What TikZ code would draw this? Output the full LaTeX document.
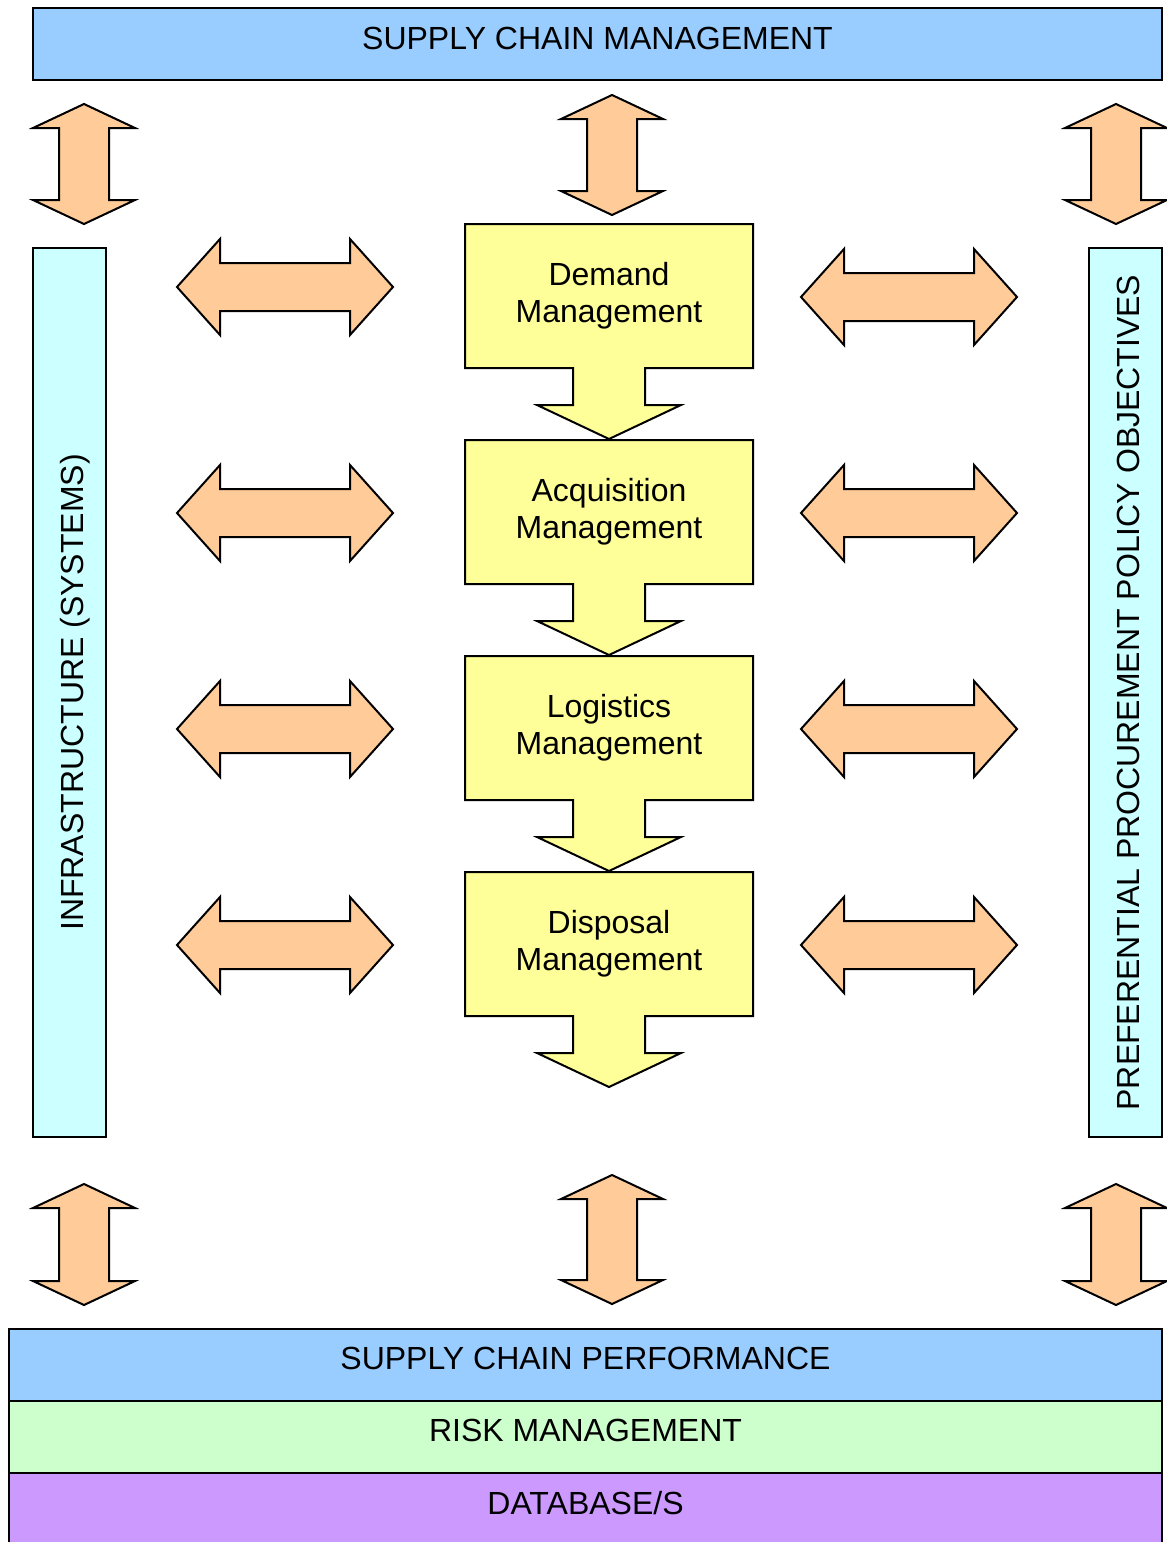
\documentclass[tikz,border=0pt]{standalone}
\usepackage{fontspec}
\setmainfont{Liberation Sans}
\usetikzlibrary{calc,backgrounds}
\definecolor{barblue}{HTML}{99CCFF}
\definecolor{barcyan}{HTML}{CCFFFF}
\definecolor{arroworange}{HTML}{FFCC99}
\definecolor{boxyellow}{HTML}{FFFF99}
\definecolor{riskgreen}{HTML}{CCFFCC}
\definecolor{dbpurple}{HTML}{CC99FF}
\tikzset{%
    bar/.style={draw, line width=1pt, fill=#1, minimum height=36pt,
        inner sep=0pt, outer sep=0pt, text depth=6pt},
    sidebar/.style={draw, line width=1pt, fill=barcyan, rotate=90,
        minimum width=444.5pt, minimum height=36.5pt, inner sep=0pt,
        text height=14pt, text depth=0pt},
    mgmt/.style={minimum width=144pt, minimum height=72pt, align=center,
        inner sep=0pt, outer sep=0pt},
    callout/.style={draw, line width=1pt, fill=boxyellow, line join=miter},
    blockarrow/.style={draw, line width=1pt, fill=arroworange, line join=miter},
    pics/vdarrow/.style={code={%
        \draw[blockarrow] (0,0) -- (51,24) -- (25,24) -- (25,{#1-24}) -- (51,{#1-24})
            -- (0,#1) -- (-51,{#1-24}) -- (-25,{#1-24}) -- (-25,24) -- (-51,24) -- cycle;}},
    pics/vdarrow/.default=120,
    pics/hdarrow/.style={code={%
        \draw[blockarrow] (0,0) -- (43,-48) -- (43,-24) -- (173,-24) -- (173,-48)
            -- (216,0) -- (173,48) -- (173,24) -- (43,24) -- (43,48) -- cycle;}}
}

\begin{document}
\begin{tikzpicture}[x=0.5pt, y=-0.5pt, font=\fontsize{16pt}{18.5pt}\selectfont]
    \useasboundingbox (0,0) rectangle (1167,1542);

    \node[bar=barblue, minimum width=564.5pt] (scm) at (597.5,44) {SUPPLY CHAIN MANAGEMENT};

    \node[sidebar] (infra) at (69.5,692.5) {INFRASTRUCTURE (SYSTEMS)};
    \node[sidebar] (ppo) at (1125,692.5) {PREFERENTIAL PROCUREMENT POLICY OBJECTIVES};

    \pic (ul) at (84,104) {vdarrow};
    \pic (uc) at (612,95) {vdarrow};
    \pic (ur) at (1116,104) {vdarrow};
    \pic (dl) at (84,1184) {vdarrow=121};
    \pic (dc) at (612,1175) {vdarrow=129};
    \pic (dr) at (1116,1184) {vdarrow=121};

    \foreach \y in {287,513,729,945}
        \pic (hl\y) at (177,\y) {hdarrow};
    \foreach \y in {297,513,729,945}
        \pic (hr\y) at (801,\y) {hdarrow};

    \node[mgmt] (dem) at (609,296) {Demand\\Management};
    \node[mgmt] (acq) at (609,512) {Acquisition\\Management};
    \node[mgmt] (log) at (609,728) {Logistics\\Management};
    \node[mgmt] (dis) at (609,944) {Disposal\\Management};

    \begin{scope}[on background layer]
    \foreach \b in {dem,acq,log,dis}
        \draw[callout] (\b.north west) -- (\b.north east) -- (\b.south east)
            -- ($(\b.south)+(36,0)$) -- ($(\b.south)+(36,37)$) -- ($(\b.south)+(72,37)$)
            -- ($(\b.south)+(0,71)$) -- ($(\b.south)+(-72,37)$) -- ($(\b.south)+(-36,37)$)
            -- ($(\b.south)+(-36,0)$) -- (\b.south west) -- cycle;
    \end{scope}

    \node[bar=barblue, minimum width=576.5pt] (perf) at (585.5,1364.5) {SUPPLY CHAIN PERFORMANCE};
    \node[bar=riskgreen, minimum width=576.5pt] (risk) at (585.5,1436.5) {RISK MANAGEMENT};
    \node[bar=dbpurple, minimum width=576.5pt] (db) at (585.5,1508.5) {DATABASE/S};

\end{tikzpicture}
\end{document}
